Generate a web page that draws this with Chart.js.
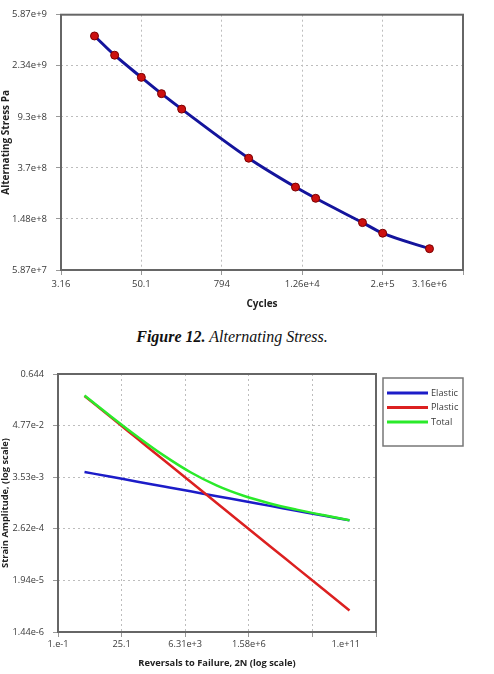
<!DOCTYPE html>
<html>
<head>
<meta charset="utf-8">
<script src="https://cdn.jsdelivr.net/npm/chart.js@4.4.0/dist/chart.umd.min.js"></script>
<style>
  html, body { margin: 0; padding: 0; background: #fff; }
  body { width: 494px; height: 674px; position: relative; overflow: hidden; }
  #stress-chart { position: absolute; left: 0; top: 0; }
  #strain-chart { position: absolute; left: 0; top: 354px; }
  #caption {
    position: absolute; left: 0; top: 328px; width: 464px;
    text-align: center; font-family: "Liberation Serif", serif;
    font-style: italic; font-size: 16px; color: #111;
  }
</style>
</head>
<body>
<canvas id="stress-chart" width="494" height="312"></canvas>
<div id="caption"><b>Figure 12.</b> Alternating Stress.</div>
<canvas id="strain-chart" width="494" height="320"></canvas>
<script>
// S-N curve (top chart)
const cycles = [10, 20, 50, 100, 200, 2000, 10000, 20000, 1e5, 2e5, 1e6];
const stressPa = [3.999e9, 2.827e9, 1.896e9, 1.413e9, 1.069e9, 4.41e8, 2.62e8, 2.14e8, 1.38e8, 1.14e8, 8.62e7];
const cycleTicks = [3.1623, 50.119, 794.33, 12589, 199526, 3162278];
const cycleTickLabels = ['3.16', '50.1', '794', '1.26e+4', '2.e+5', '3.16e+6'];
const stressTicks = [5.87e7, 1.4745e8, 3.7037e8, 9.303e8, 2.3369e9, 5.87e9];
const stressTickLabels = ['5.87e+7', '1.48e+8', '3.7e+8', '9.3e+8', '2.34e+9', '5.87e+9'];

// Strain-life curves (bottom chart)
const reversals = [1, 10, 100, 1e3, 1e4, 1e5, 1e6, 1e7, 1e8, 1e9, 1e10];
const elasticStrain = [4.60e-3, 3.604e-3, 2.823e-3, 2.212e-3, 1.733e-3, 1.357e-3, 1.064e-3, 8.33e-4, 6.53e-4, 5.11e-4, 4.01e-4];
const plasticStrain = [0.213, 7.22e-2, 2.445e-2, 8.28e-3, 2.81e-3, 9.51e-4, 3.22e-4, 1.092e-4, 3.70e-5, 1.254e-5, 4.25e-6];
const totalStrain = [0.2176, 7.58e-2, 2.727e-2, 1.049e-2, 4.54e-3, 2.308e-3, 1.386e-3, 9.42e-4, 6.90e-4, 5.24e-4, 4.05e-4];
const seriesLabels = ['Elastic', 'Plastic', 'Total'];
const reversalTicks = [0.1, 25.119, 6309.6, 1584893, 3.981e8, 1e11];
const reversalTickLabels = ['1.e-1', '25.1', '6.31e+3', '1.58e+6', '', '1.e+11'];
const strainTicks = [1.44e-6, 1.9426e-5, 2.6206e-4, 3.535e-3, 4.769e-2, 0.644];
const strainTickLabels = ['1.44e-6', '1.94e-5', '2.62e-4', '3.53e-3', '4.77e-2', '0.644'];

Chart.defaults.font.family = '"Open Sans", sans-serif';
Chart.defaults.color = '#3a3a3a';

const gridStyle = { color: '#bdbdbd', tickColor: '#999', tickLength: 5, lineWidth: 1 };

function logAxis(ticks, opts) {
    return Object.assign({
        type: 'logarithmic',
        min: ticks[0],
        max: ticks[ticks.length - 1],
        afterBuildTicks: s => { s.ticks = ticks.map(v => ({ value: v })); },
        grid: gridStyle,
        border: { display: false, dash: [2, 3] }
    }, opts);
}

// frame round the plot area + hand-placed x tick labels (last one pulled inside)
function frameAndLabels(values, labels, gap, fontSize) {
    return {
        id: 'frameAndLabels',
        afterDraw(chart) {
            const { ctx, chartArea, scales } = chart;
            ctx.save();
            ctx.strokeStyle = '#666';
            ctx.lineWidth = 2;
            ctx.strokeRect(chartArea.left, chartArea.top,
                chartArea.right - chartArea.left, chartArea.bottom - chartArea.top);
            ctx.font = fontSize + 'px "Open Sans"';
            ctx.fillStyle = '#3a3a3a';
            ctx.textBaseline = 'middle';
            values.forEach((v, i) => {
                const last = i === values.length - 1;
                ctx.textAlign = last ? 'right' : 'center';
                const x = scales.x.getPixelForValue(v) - (last ? 16 : 0);
                ctx.fillText(labels[i], x, chartArea.bottom + gap);
            });
            ctx.restore();
        }
    };
}

const legendBox = {
    id: 'legendBox',
    afterDraw(chart) {
        const { ctx, chartArea } = chart;
        const left = chartArea.right + 7, top = chartArea.top + 4;
        ctx.save();
        ctx.strokeStyle = '#777';
        ctx.lineWidth = 1.5;
        ctx.strokeRect(left, top, 80, 68);
        ctx.font = '9.2px "Open Sans"';
        ctx.fillStyle = '#3a3a3a';
        ctx.textBaseline = 'middle';
        ctx.textAlign = 'left';
        chart.data.datasets.forEach((ds, i) => {
            const y = top + 15 + i * 14.5;
            ctx.strokeStyle = ds.borderColor;
            ctx.lineWidth = 3;
            ctx.beginPath();
            ctx.moveTo(left + 4, y);
            ctx.lineTo(left + 45, y);
            ctx.stroke();
            ctx.fillText(ds.label, left + 48, y);
        });
        ctx.restore();
    }
};

new Chart(document.getElementById('stress-chart'), {
    type: 'line',
    data: {
        datasets: [{
            data: cycles.map((c, i) => ({ x: c, y: stressPa[i] })),
            borderColor: '#14149c',
            borderWidth: 3,
            cubicInterpolationMode: 'monotone',
            pointRadius: 4,
            pointBackgroundColor: '#cc1010',
            pointBorderColor: '#7a0000',
            pointBorderWidth: 1
        }]
    },
    options: {
        responsive: false,
        animation: false,
        layout: { padding: { top: 10, right: 31, bottom: 0, left: 0 } },
        plugins: { legend: { display: false }, tooltip: { enabled: false } },
        scales: {
            x: logAxis(cycleTicks, {
                afterFit: s => { s.height = 42; },
                ticks: { display: false },
                title: { display: true, text: 'Cycles', color: '#222',
                    font: { size: 10, weight: 'bold' }, padding: { top: 0, bottom: 2 } }
            }),
            y: logAxis(stressTicks, {
                afterFit: s => { s.width = 61; },
                ticks: { callback: (v, i) => stressTickLabels[i], autoSkip: false,
                    padding: 9, font: { size: 9.5 } },
                title: { display: true, text: 'Alternating Stress Pa', color: '#222',
                    font: { size: 10, weight: 'bold' }, padding: 0 }
            })
        }
    },
    plugins: [frameAndLabels(cycleTicks, cycleTickLabels, 14.5, 9.5)]
});

const strainColors = ['#1c1cc8', '#dc2020', '#2aea2a'];
const strainSeries = [elasticStrain, plasticStrain, totalStrain];

new Chart(document.getElementById('strain-chart'), {
    type: 'line',
    data: {
        datasets: strainSeries.map((vals, k) => ({
            label: seriesLabels[k],
            data: reversals.map((r, i) => ({ x: r, y: vals[i] })),
            borderColor: strainColors[k],
            borderWidth: 2.5,
            cubicInterpolationMode: 'monotone',
            pointRadius: 0,
            order: 2 - k
        }))
    },
    options: {
        responsive: false,
        animation: false,
        layout: { padding: { top: 20, right: 118, bottom: 0, left: 0 } },
        plugins: { legend: { display: false }, tooltip: { enabled: false } },
        scales: {
            x: logAxis(reversalTicks, {
                afterFit: s => { s.height = 42; },
                ticks: { display: false },
                title: { display: true, text: 'Reversals to Failure, 2N (log scale)', color: '#222',
                    font: { size: 9.3, weight: 'bold' }, padding: { top: 0, bottom: 5 } }
            }),
            y: logAxis(strainTicks, {
                afterFit: s => { s.width = 58; },
                ticks: { callback: (v, i) => strainTickLabels[i], autoSkip: false,
                    padding: 9, font: { size: 9.2 } },
                title: { display: true, text: 'Strain Amplitude, (log scale)', color: '#222',
                    font: { size: 9.3, weight: 'bold' }, padding: 0 }
            })
        }
    },
    plugins: [frameAndLabels(reversalTicks, reversalTickLabels, 12, 9.2), legendBox]
});
</script>
</body>
</html>
